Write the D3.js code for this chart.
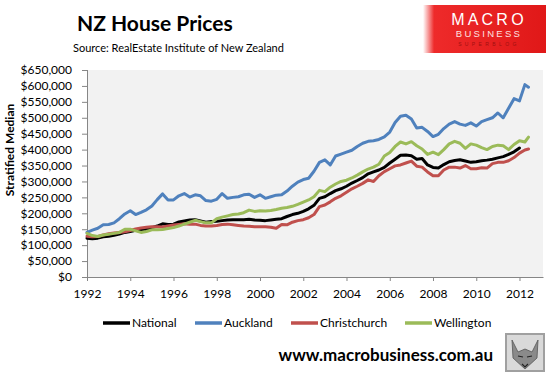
<!DOCTYPE html>
<html>
<head>
<meta charset="utf-8">
<script src="https://cdn.jsdelivr.net/npm/d3@7"></script>
<style>
  body { margin: 0; background: #fff; }
  svg { display: block; font-family: Lato, "Open Sans", sans-serif; }
</style>
</head>
<body>
<svg id="chart" width="551" height="376"></svg>
<script>
// quarterly readings, $ thousands
var dates = [
	"1992-01","1992-04","1992-07","1992-10","1993-01","1993-04","1993-07","1993-10",
	"1994-01","1994-04","1994-07","1994-10","1995-01","1995-04","1995-07","1995-10",
	"1996-01","1996-04","1996-07","1996-10","1997-01","1997-04","1997-07","1997-10",
	"1998-01","1998-04","1998-07","1998-10","1999-01","1999-04","1999-07","1999-10",
	"2000-01","2000-04","2000-07","2000-10","2001-01","2001-04","2001-07","2001-10",
	"2002-01","2002-04","2002-07","2002-10","2003-01","2003-04","2003-07","2003-10",
	"2004-01","2004-04","2004-07","2004-10","2005-01","2005-04","2005-07","2005-10",
	"2006-01","2006-04","2006-07","2006-10","2007-01","2007-04","2007-07","2007-10",
	"2008-01","2008-04","2008-07","2008-10","2009-01","2009-04","2009-07","2009-10",
	"2010-01","2010-04","2010-07","2010-10","2011-01","2011-04","2011-07","2011-10",
	"2012-01","2012-04","2012-06"];

var national = [
	122,120,122,126, 128,131,135,140, 143,147,149,150, 155,160,167,165,
	166,173,176,179, 180,176,172,174, 175,177,179,180, 180,180,181,179,
	178,177,179,181, 183,190,196,200, 206,214,225,247, 252,262,271,277,
	285,295,303,312, 324,330,336,344, 358,370,382,383, 381,370,372,352,
	344,342,353,362, 366,368,364,360, 362,365,367,370, 374,378,385,393,
	405];

var auckland = [
	140,147,153,164, 165,170,183,198, 208,196,203,211, 223,243,261,242,
	242,255,262,251, 258,255,240,238, 244,262,247,250, 252,258,260,250,
	258,247,252,257, 258,270,285,298, 306,310,332,360, 368,352,380,386,
	392,398,410,420, 426,428,432,440, 455,485,505,508, 496,468,470,457,
	441,448,466,480, 488,480,476,484, 474,488,494,500, 515,500,530,560,
	553,604,596];

var christchurch = [
	128,126,127,132, 136,138,140,142, 146,151,154,156, 158,158,157,160,
	163,165,167,166, 166,162,160,160, 162,165,166,164, 162,160,159,158,
	158,158,156,153, 165,164,172,177, 180,186,196,221, 226,236,247,255,
	266,277,285,294, 305,300,318,331, 340,349,352,358, 364,348,345,330,
	318,318,336,345, 345,342,350,340, 340,343,342,356, 360,360,365,375,
	389,399,402];

var wellington = [
	137,130,127,132, 134,137,140,150, 150,145,140,143, 148,148,149,152,
	155,160,166,172, 178,174,170,170, 183,188,192,196, 198,202,210,206,
	208,207,209,212, 216,218,222,228, 235,242,252,272, 268,282,292,300,
	304,311,320,330, 339,345,354,380, 391,410,424,418, 425,412,402,385,
	392,384,400,418, 426,420,404,418, 414,406,400,410, 414,412,400,416,
	428,424,439];

var seriesNames = ["National", "Auckland", "Christchurch", "Wellington"];
var seriesColors = ["#000000", "#4f81bd", "#c0504d", "#9bbb59"];
var yTicks = [0,50,100,150,200,250,300,350,400,450,500,550,600,650];
var xTickYears = [1992,1994,1996,1998,2000,2002,2004,2006,2008,2010,2012];

var svg = d3.select("#chart"),
	plot = {left: 87, right: 543, top: 70, bottom: 277};

var parseMonth = d3.timeParse("%Y-%m");

var x = d3.scaleTime()
	.domain([parseMonth("1992-01"), parseMonth("2013-02")])
	.range([plot.left, plot.right]);

var y = d3.scaleLinear()
	.domain([0, 650])
	.range([plot.bottom, plot.top]);

// plot background
svg.append("rect")
	.attr("x", plot.left)
	.attr("y", plot.top)
	.attr("width", plot.right - plot.left)
	.attr("height", plot.bottom - plot.top)
	.attr("fill", "#f2f2f2");

var yAxis = svg.append("g")
	.attr("class", "y-axis")
	.attr("transform", `translate(${plot.left},0)`)
	.call(d3.axisLeft(y).tickValues(yTicks).tickSize(5).tickPadding(10)
		.tickFormat(d => d3.format("$,")(d * 1000)));

var xAxis = svg.append("g")
	.attr("class", "x-axis")
	.attr("transform", `translate(0,${plot.bottom})`)
	.call(d3.axisBottom(x)
		.tickValues(xTickYears.map(yr => new Date(yr, 0, 1)))
		.tickSize(4).tickSizeOuter(0).tickPadding(6)
		.tickFormat(d3.timeFormat("%Y")));

svg.selectAll(".x-axis path, .y-axis path").attr("stroke", "#868686");
svg.selectAll(".x-axis line, .y-axis line").attr("stroke", "#868686");
svg.selectAll(".y-axis .tick text, .x-axis .tick text")
	.attr("fill", "#000")
	.style("font-size", "12px")
	.style("font-family", "Lato, sans-serif");
svg.selectAll(".x-axis .tick text").attr("dy", "0.9em");
svg.select(".y-axis path").attr("d", `M0.5,${plot.top}V${plot.bottom}`);

svg.append("text")
	.attr("transform", "translate(14,150) rotate(-90)")
	.attr("text-anchor", "middle")
	.style("font-size", "12px")
	.style("font-weight", "bold")
	.text("Stratified Median");

// lines
var allSeries = [national, auckland, christchurch, wellington];

var line = d3.line()
	.defined(d => d.value != null)
	.x(d => x(d.date))
	.y(d => y(d.value));

allSeries.forEach(function(vals, i) {
	var pts = vals.map((v, j) => ({date: parseMonth(dates[j]), value: v}));
	svg.append("path")
		.datum(pts)
		.attr("fill", "none")
		.attr("stroke", seriesColors[i])
		.attr("stroke-width", 3)
		.attr("stroke-linejoin", "round")
		.attr("stroke-linecap", "round")
		.attr("d", line);
});

// legend
var legendX = [103, 195, 291, 405];
var legend = svg.selectAll("g.legend")
	.data(seriesNames)
	.enter().append("g")
	.attr("class", "legend")
	.attr("transform", (d, i) => `translate(${legendX[i]},323)`);

legend.append("line")
	.attr("x1", 0).attr("x2", 27)
	.attr("stroke", (d, i) => seriesColors[i])
	.attr("stroke-width", 3.5);

legend.append("text")
	.attr("x", 29)
	.attr("dy", "0.35em")
	.style("font-size", "12px")
	.text(d => d);

// titles
svg.append("text")
	.attr("x", 77)
	.attr("y", 31)
	.style("font-size", "21px")
	.style("font-weight", "bold")
	.text("NZ House Prices");

svg.append("text")
	.attr("x", 73)
	.attr("y", 52)
	.style("font-size", "11px")
	.text("Source: RealEstate Institute of New Zealand");

svg.append("text")
	.attr("x", 493)
	.attr("y", 361)
	.attr("text-anchor", "end")
	.style("font-size", "17px")
	.style("font-weight", "bold")
	.text("www.macrobusiness.com.au");

// logo block
var defs = svg.append("defs");
var grad = defs.append("linearGradient").attr("id", "logoFade");
grad.append("stop").attr("offset", "0").attr("stop-color", "#ffffff");
grad.append("stop").attr("offset", "0.09").attr("stop-color", "#ee2a2a");
grad.append("stop").attr("offset", "1").attr("stop-color", "#e01818");

svg.append("rect")
	.attr("x", 423).attr("y", 5)
	.attr("width", 123).attr("height", 48)
	.attr("fill", "url(#logoFade)");

var logoText = [
	{t: "MACRO", y: 25, size: 16, fill: "#fff", sp: 3.2},
	{t: "BUSINESS", y: 37, size: 9.5, fill: "#fde0e0", sp: 2.3},
	{t: "SUPERBLOG", y: 46, size: 5, fill: "#a01010", sp: 3.4}
];
svg.selectAll("text.logo")
	.data(logoText)
	.enter().append("text")
	.attr("class", "logo")
	.attr("x", 489)
	.attr("y", d => d.y)
	.attr("text-anchor", "middle")
	.style("font-family", "Arial, 'Liberation Sans', sans-serif")
	.style("font-size", d => d.size + "px")
	.style("letter-spacing", d => d.sp + "px")
	.attr("fill", d => d.fill)
	.text(d => d.t);

// little wolf picture frame
svg.append("rect")
	.attr("x", 506).attr("y", 334)
	.attr("width", 38).attr("height", 37)
	.attr("fill", "#d9d9d9")
	.attr("stroke", "#a0a0a0")
	.attr("stroke-width", 2);
svg.append("path")
	.attr("d", "M512,340 L518,352 L525,349 L532,352 L538,340 L537,358 L525,369 L513,358 Z")
	.attr("fill", "#8a8a8a")
	.attr("stroke", "#555")
	.attr("stroke-width", 0.8);
svg.append("path")
	.attr("d", "M518,356 L523,357 M527,357 L532,356 M522,364 L525,367 L528,364")
	.attr("stroke", "#222")
	.attr("stroke-width", 1.2)
	.attr("fill", "none");
</script>
</body>
</html>
